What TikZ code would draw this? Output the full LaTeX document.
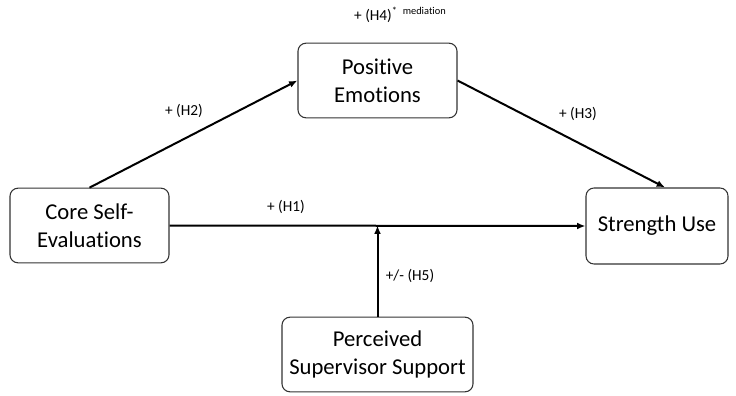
\documentclass[tikz,border=0pt]{standalone}
\usepackage{fontspec}
\setmainfont{Carlito}[Ligatures=NoCommon]
\usetikzlibrary{arrows.meta}

\begin{document}
\begin{tikzpicture}[x=0.75pt, y=-0.75pt, >={Latex[length=2.2mm, width=1.8mm]},
	construct/.style={draw=black!80, line width=0.8pt, rounded corners=6pt, align=center, font=\fontsize{17}{21}\selectfont, inner sep=0pt},
	hyp/.style={font=\fontsize{11.5}{13}\selectfont, inner sep=0pt},
	path/.style={->, line width=1.5pt}]
	\useasboundingbox (0,0) rectangle (736,396);
	\node[construct, minimum width=119.25pt, minimum height=56pt] (cse) at (89.5,225.5) {Core Self-\\Evaluations};
	\node[construct, minimum width=119.25pt, minimum height=56pt] (pe) at (377.5,80.5) {Positive\\Emotions};
	\node[construct, minimum width=106.5pt, minimum height=57pt] (su) at (657,226) {Strength Use};
	\node[construct, minimum width=143.25pt, minimum height=56pt] (pss) at (377.5,354.5) {Perceived\\Supervisor Support};
	\draw[path] (cse.north) -- (pe.west);
	\draw[path] (pe.east) -- ([xshift=6pt]su.north);
	\draw[path] (cse.east) -- (su.west);
	\coordinate (mod) at (pss.north |- cse.east);
	\draw[path] (pss.north) -- (mod);
	\node[hyp] (h1) at (286,207) {+ (H1)};
	\node[hyp] (h2) at (184,111) {+ (H2)};
	\node[hyp] (h3) at (578,114) {+ (H3)};
	\node[hyp] (h4) at (400,15) {+ (H4)\raisebox{0.75ex}{\fontsize{7.8}{8}\selectfont *\hspace{0.55em}mediation}};
	\node[hyp] (h5) at (410,276) {+/- (H5)};
\end{tikzpicture}
\end{document}
